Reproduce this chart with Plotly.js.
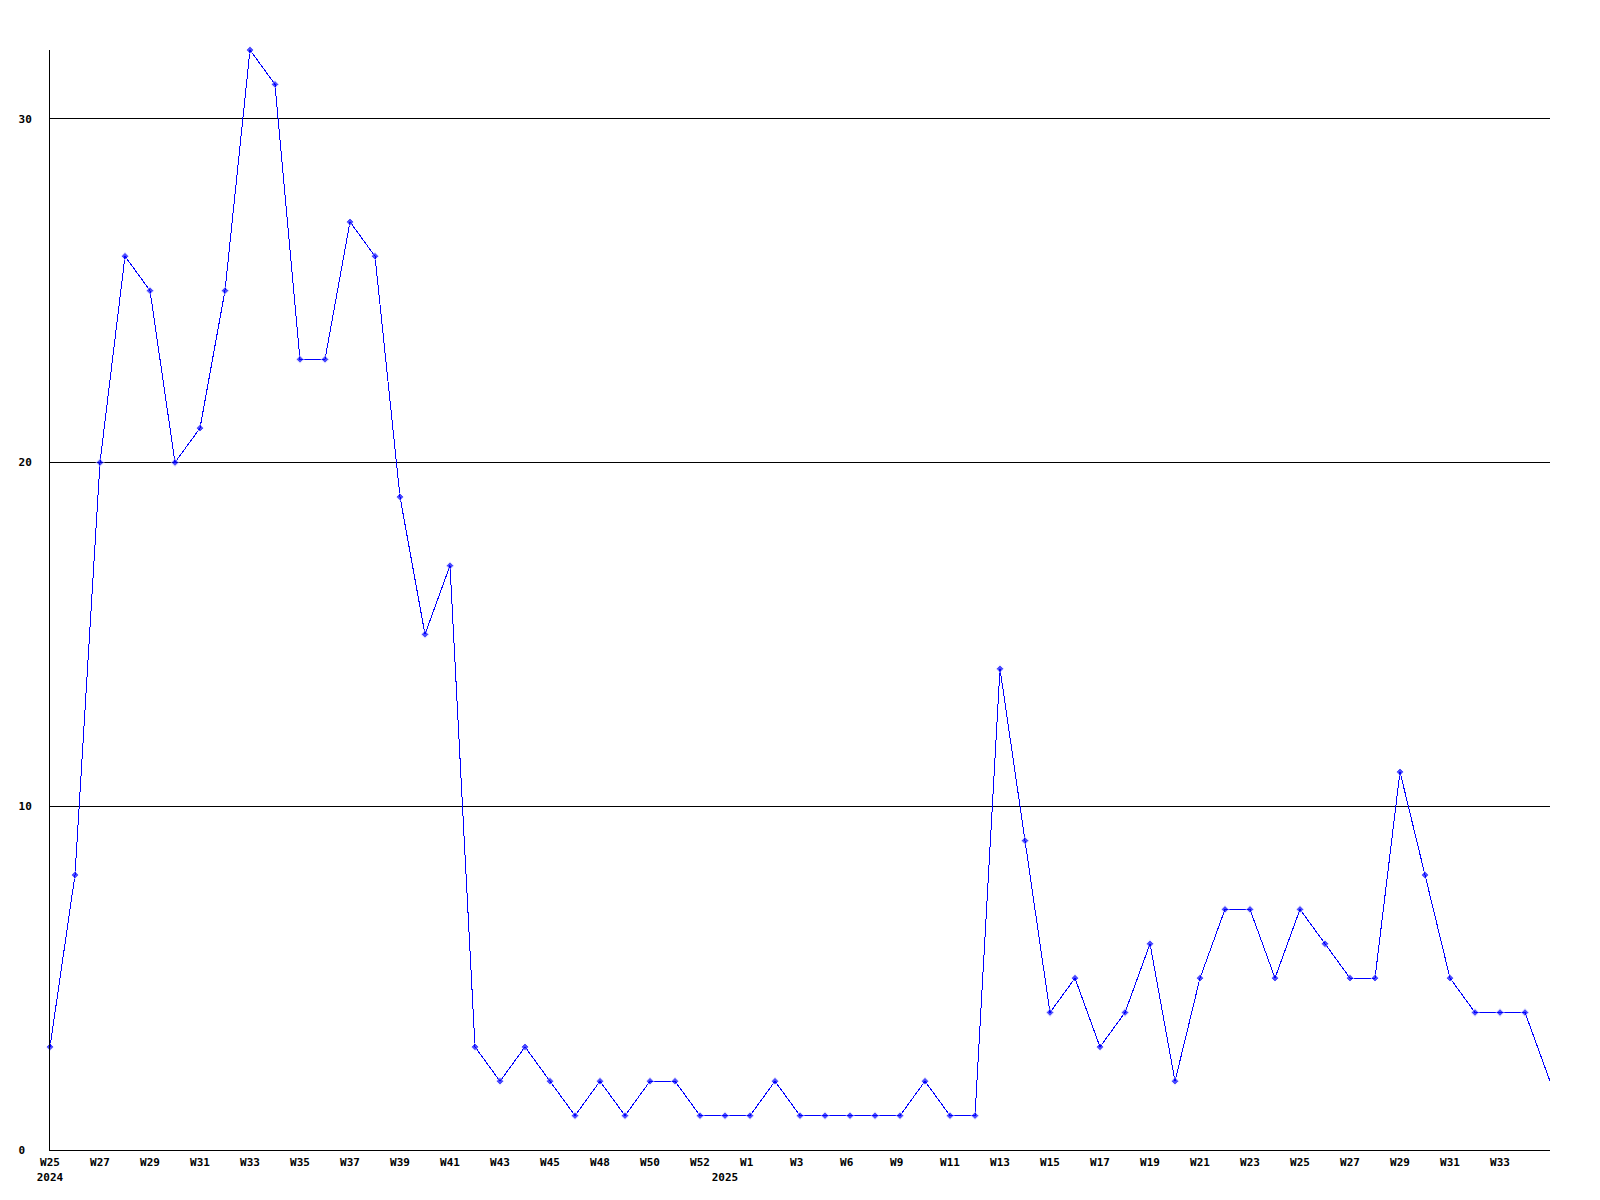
<!DOCTYPE html>
<html>
<head>
<meta charset="utf-8">
<script src="https://cdn.plot.ly/plotly-3.0.1.min.js"></script>
<style>
html,body{margin:0;padding:0;background:#fff;}
#chart{width:1600px;height:1200px;}
#chart svg path.js-line, #chart svg path.xgrid, #chart svg path.ygrid, #chart svg path.xlines-above, #chart svg path.ylines-above {shape-rendering: crispEdges;}
</style>
</head>
<body>
<div id="chart"></div>
<script>
// Weekly counts, W25 2024 .. W33 2025 (+1)
const values = [3, 8, 20, 26, 25, 20, 21, 25, 32, 31, 23, 23, 27, 26, 19, 15, 17, 3, 2, 3,
  2, 1, 2, 1, 2, 2, 1, 1, 1, 2, 1, 1, 1, 1, 1, 2, 1, 1, 14, 9,
  4, 5, 3, 4, 6, 2, 5, 7, 7, 5, 7, 6, 5, 5, 11, 8, 5, 4, 4, 4, 2];
const xTickPos = [0, 2, 4, 6, 8, 10, 12, 14, 16, 18, 20, 22, 24, 26, 27, 28, 30, 32, 34, 36, 38, 40, 42, 44, 46, 48, 50, 52, 54, 56, 58];
const xTickText = ["W25<br>2024", "W27", "W29", "W31", "W33", "W35", "W37", "W39", "W41", "W43", "W45", "W48", "W50", "W52", "<br>2025", "W1\u00a0", "W3\u00a0", "W6\u00a0", "W9\u00a0", "W11", "W13", "W15", "W17", "W19", "W21", "W23", "W25", "W27", "W29", "W31", "W33"];
const yTickVals = [0, 10, 20, 30];
const yTickText = ["0\u00a0", "10", "20", "30"];

const xs = values.map((v, i) => i);
const sizes = values.map((v, i) => i === values.length - 1 ? 0 : 6);

const font = {family: "DejaVu Sans Mono", size: 11, color: "#000", weight: "bold"};

Plotly.newPlot("chart", [{
  x: xs, y: values, type: "scatter", mode: "lines+markers",
  line: {color: "#0000ff", width: 1},
  marker: {color: "#0000ff", size: sizes, symbol: "diamond"},
  cliponaxis: false,
  hoverinfo: "skip"
}], {
  width: 1600, height: 1200,
  margin: {l: 50, r: 50, t: 50, b: 50, pad: 0},
  paper_bgcolor: "#fff", plot_bgcolor: "#fff",
  showlegend: false,
  font: font,
  xaxis: {
    range: [0, 60], showgrid: false, zeroline: false,
    showline: true, linecolor: "#000", linewidth: 1,
    tickmode: "array", tickvals: xTickPos, ticktext: xTickText,
    ticks: "", tickangle: 0, tickfont: font, ticklabelstandoff: 2
  },
  yaxis: {
    range: [0, 32], showgrid: true, gridcolor: "#000", gridwidth: 1, zeroline: false,
    showline: true, linecolor: "#000", linewidth: 1,
    tickmode: "array", tickvals: yTickVals, ticktext: yTickText,
    ticks: "", tickfont: font, ticklabelstandoff: 15
  }
}, {staticPlot: true});
</script>
</body>
</html>
